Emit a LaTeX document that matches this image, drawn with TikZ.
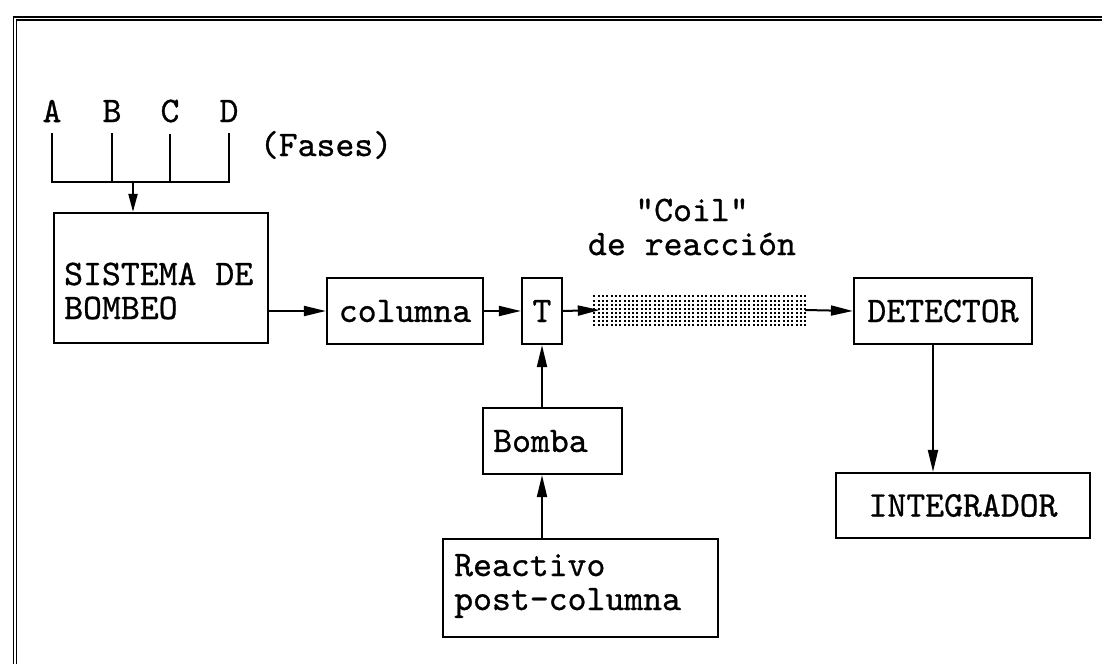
\documentclass[tikz,border=0pt]{standalone}
\usepackage{fontspec}
\newfontfamily\typew{lmmono10-regular.otf}[FakeBold=0.8]
\usetikzlibrary{arrows.meta}
\begin{document}
\begin{tikzpicture}[x=1pt,y=-1pt,
  box/.style={draw,line width=2.2pt,rectangle,inner sep=0pt},
  lbl/.style={inner sep=0pt,font=\typew\fontsize{36}{34}\selectfont},
  conn/.style={line width=2pt,-{Triangle[length=22pt,width=10pt]}},
  smallconn/.style={line width=2pt,-{Triangle[length=18pt,width=9pt]}},
  bus/.style={line width=2pt},
  frame/.style={line width=1.5pt}]
\useasboundingbox (0,0) rectangle (1102,664);
% frame
\draw[frame] (13.3,664) -- (13.3,16.8) -- (1102,16.8);
\draw[frame] (16.3,664) -- (16.3,19.8) -- (1102,19.8);
% phase labels
\node[lbl] (la) at (52,111) {A};
\node[lbl] (lb) at (112,111) {B};
\node[lbl] (lc) at (170,111) {C};
\node[lbl] (ld) at (229,111) {D};
\node[lbl] (fases) at (326,145) {(Fases)};
\coordinate (bus) at (133,182);
\draw[bus] ([yshift=-11pt]la.south) -- (la.south |- bus) -- (ld.south |- bus) -- ([yshift=-11pt]ld.south);
\draw[bus] ([yshift=-11pt]lb.south) -- (lb.south |- bus);
\draw[bus] ([yshift=-11pt]lc.south) -- (lc.south |- bus);
% boxes
\node[box,minimum width=214pt,minimum height=130pt] (sis) at (161,278) {};
\node[lbl,align=left,anchor=west] (sistxt) at (64,291) {SISTEMA DE\\BOMBEO};
\node[box,lbl,draw,line width=2.2pt,minimum width=156pt,minimum height=66pt] (col) at (405,311) {columna};
\node[box,lbl,draw,line width=2.2pt,minimum width=40pt,minimum height=66pt] (t) at (542,311) {T};
\node[inner sep=0pt,minimum width=212pt,minimum height=30pt] (coil) at (699,310) {};
\foreach \i in {0,...,49}{
  \foreach \j in {0,...,7}{
    \fill ([xshift=\i*4.3pt+0.6pt,yshift=-\j*4.15pt-0.6pt]coil.north west) rectangle +(2pt,-2pt);
  }
}
\node[lbl,align=center] (coiltxt) at (692,227) {\symbol{34}Coil\symbol{34}\\de reacción};
\node[box,lbl,draw,line width=2.2pt,minimum width=178pt,minimum height=66pt] (det) at (943,311) {DETECTOR};
\node[box,lbl,draw,line width=2.2pt,minimum width=254pt,minimum height=65pt] (integ) at (963,505.5) {INTEGRADOR};
\node[box,minimum width=139pt,minimum height=66pt] (bomba) at (552.5,441) {};
\node[lbl,anchor=west] (bombatxt) at (493,441) {Bomba};
\node[box,minimum width=275pt,minimum height=98pt] (reac) at (580.5,588) {};
\node[lbl,align=left,anchor=west] (reactxt) at (454,586) {Reactivo\\post-columna};
% connectors
\draw[smallconn] (bus) -- (bus |- sis.north);
\draw[conn] (sis.east |- col.west) -- (col.west);
\draw[conn] (col.east) -- (t.west);
\draw[conn] (t.east) -- ([xshift=7pt]coil.west);
\draw[conn] (coil.east) -- (det.west);
\draw[conn] ([xshift=-10pt]det.south) -- ([xshift=-10pt]det.south |- integ.north);
\draw[conn] (bomba.north -| t.south) -- (t.south);
\draw[conn] (reac.north -| t.south) -- (bomba.south -| t.south);
\end{tikzpicture}
\end{document}
